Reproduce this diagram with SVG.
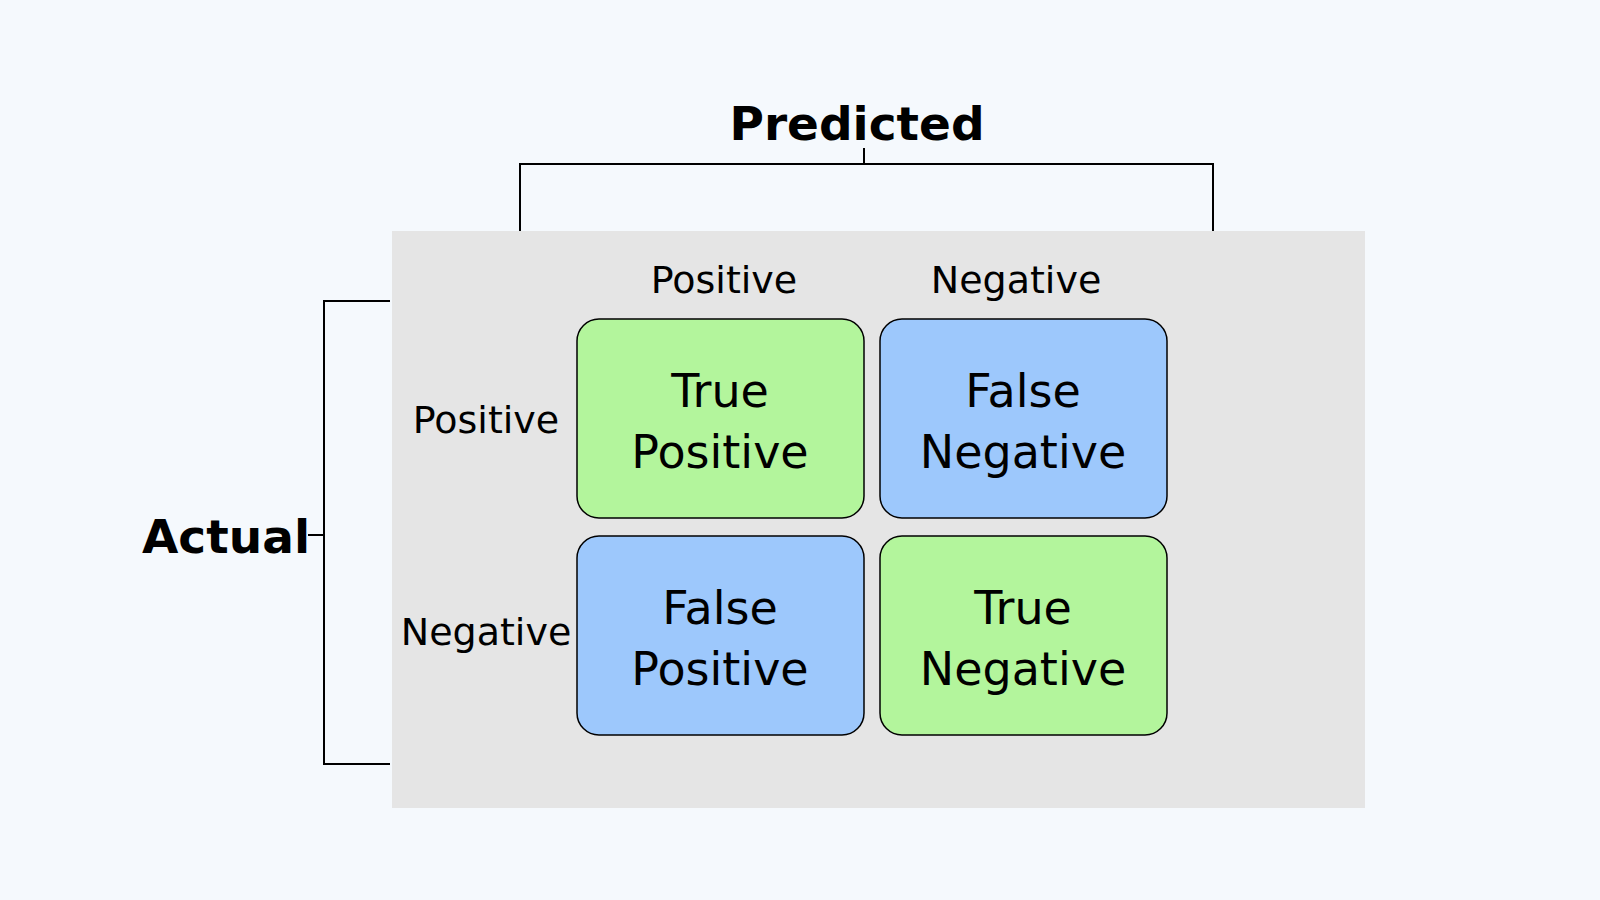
<svg xmlns="http://www.w3.org/2000/svg" width="1600" height="900" viewBox="0 0 1600 900">
<style>
text{font-family:"DejaVu Sans",sans-serif;fill:#000;text-anchor:middle}
.t{font-size:46px}
.l{font-size:38px}
.h{font-size:47px;font-weight:bold}
.cell{stroke:#000;stroke-width:1.5}
.g{fill:#b3f59c}
.b{fill:#9dc8fc}
.br{fill:none;stroke:#000;stroke-width:2}
</style>
<rect width="1600" height="900" fill="#f5f9fd"/>
<rect x="392" y="231" width="973" height="577" fill="#e5e5e5"/>
<g id="connectors">
<path class="br" d="M520 231V164H1213V231M864 164V148"/>
<path class="br" d="M390 301H324V764H390M324 535H308"/>
</g>
<g id="predicted"><text class="h" x="857" y="140">Predicted</text></g>
<g id="actual"><text class="h" x="226" y="553">Actual</text></g>
<g id="col-pos"><text class="l" x="724" y="293">Positive</text></g>
<g id="col-neg"><text class="l" x="1016" y="293">Negative</text></g>
<g id="row-pos"><text class="l" x="486" y="433">Positive</text></g>
<g id="row-neg"><text class="l" x="486" y="645">Negative</text></g>
<g id="tp"><rect class="cell g" x="577" y="319" width="287" height="199" rx="22"/><text class="t" x="720" y="407">True</text><text class="t" x="720" y="468">Positive</text></g>
<g id="fn"><rect class="cell b" x="880" y="319" width="287" height="199" rx="22"/><text class="t" x="1023" y="407">False</text><text class="t" x="1023" y="468">Negative</text></g>
<g id="fp"><rect class="cell b" x="577" y="536" width="287" height="199" rx="22"/><text class="t" x="720" y="624">False</text><text class="t" x="720" y="685">Positive</text></g>
<g id="tn"><rect class="cell g" x="880" y="536" width="287" height="199" rx="22"/><text class="t" x="1023" y="624">True</text><text class="t" x="1023" y="685">Negative</text></g>
</svg>
